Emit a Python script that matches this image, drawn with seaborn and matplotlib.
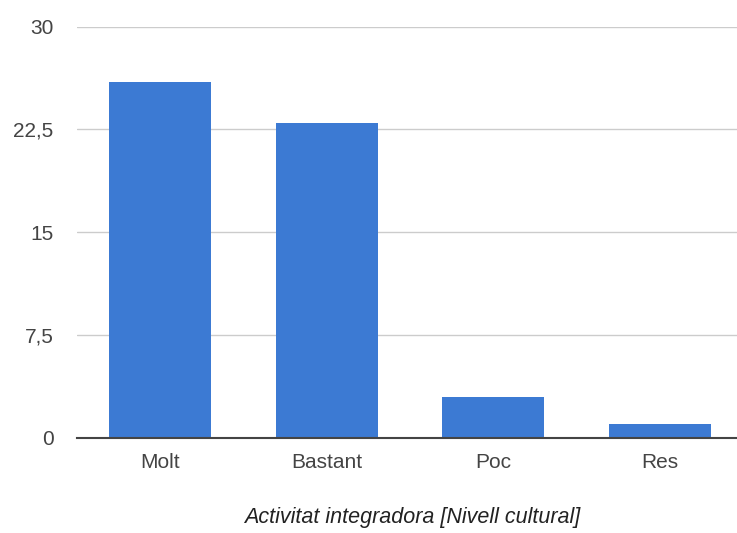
import pandas as pd
import matplotlib
matplotlib.use('Agg')
import matplotlib.pyplot as plt
from matplotlib.ticker import FuncFormatter
import seaborn as sns

categories = ['Molt', 'Bastant', 'Poc', 'Res']
values = [26, 23, 3, 1]
y_ticks = [0, 7.5, 15, 22.5, 30]
x_title = 'Activitat integradora [Nivell cultural]'

sns.set_style('white')
plt.rcParams['font.family'] = ['Liberation Sans', 'DejaVu Sans']

df = pd.DataFrame({'cat': categories, 'val': values})

fig = plt.figure(figsize=(7.37, 5.33), dpi=100)
ax = fig.add_axes([0.1045, 0.1788, 0.8955, 0.7711])

sns.barplot(data=df, x='cat', y='val', color='#3c7ad3', saturation=1,
            width=0.613, edgecolor='none', ax=ax, zorder=3)

ax.set_ylim(0, 30)
ax.set_xlim(-0.5, 3.464)
ax.set_yticks(y_ticks)
ax.yaxis.set_major_formatter(FuncFormatter(lambda v, p: f'{v:g}'.replace('.', ',')))
ax.grid(axis='y', color='#cccccc', linewidth=1, zorder=0)
for s in ['top', 'right', 'left']:
    ax.spines[s].set_visible(False)
ax.spines['bottom'].set_color('#444444')
ax.spines['bottom'].set_linewidth(1.5)
ax.spines['bottom'].set_zorder(4)
ax.tick_params(axis='both', length=0, labelsize=15, labelcolor='#444444')
ax.tick_params(axis='y', pad=17)
ax.tick_params(axis='x', pad=11)
ax.set_ylabel('')
ax.set_xlabel('')
fig.text(412 / 737, 1 - 518 / 533, x_title, fontstyle='italic', fontsize=15.5,
         color='#222222', ha='center', va='center')

fig.savefig('out.png', dpi=100)
